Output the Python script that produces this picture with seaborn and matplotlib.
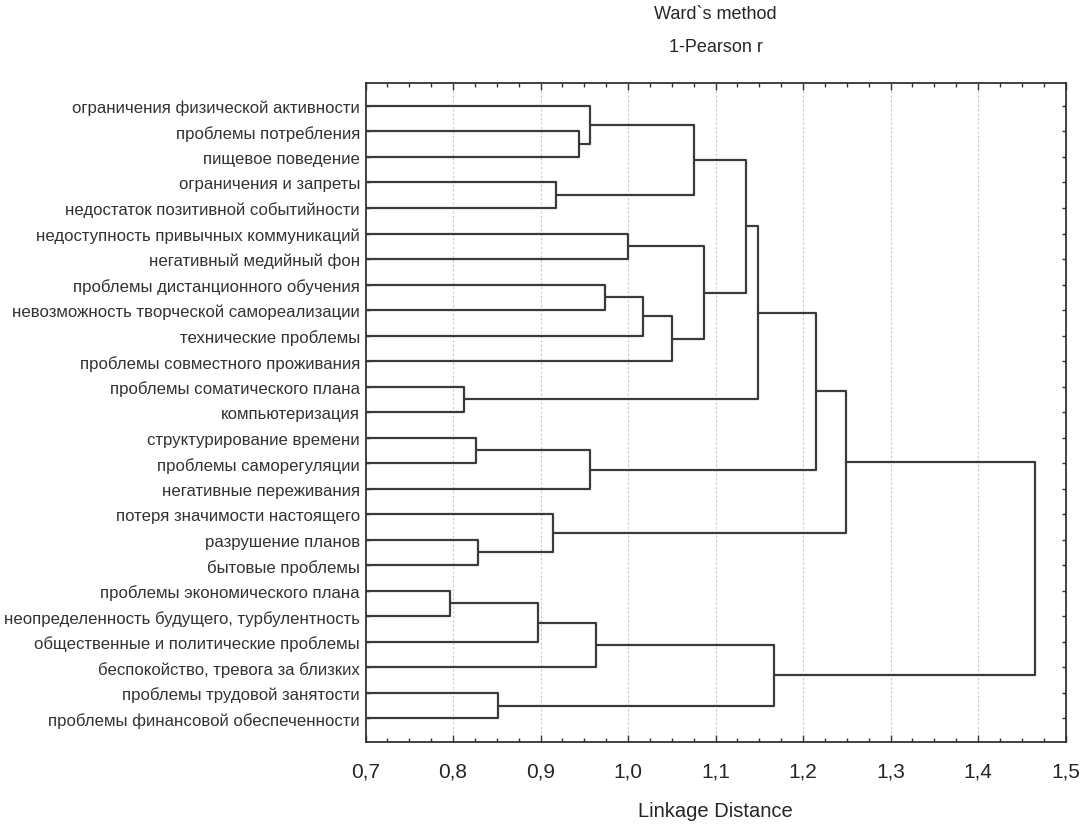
import pandas as pd
import seaborn as sns
import matplotlib.pyplot as plt
from matplotlib.ticker import MultipleLocator

# leaves, top to bottom
leaves = [
    'ограничения физической активности',
    'проблемы потребления',
    'пищевое поведение',
    'ограничения и запреты',
    'недостаток позитивной событийности',
    'недоступность привычных коммуникаций',
    'негативный медийный фон',
    'проблемы дистанционного обучения',
    'невозможность творческой самореализации',
    'технические проблемы',
    'проблемы совместного проживания',
    'проблемы соматического плана',
    'компьютеризация',
    'структурирование времени',
    'проблемы саморегуляции',
    'негативные переживания',
    'потеря значимости настоящего',
    'разрушение планов',
    'бытовые проблемы',
    'проблемы экономического плана',
    'неопределенность будущего, турбулентность',
    'общественные и политические проблемы',
    'беспокойство, тревога за близких',
    'проблемы трудовой занятости',
    'проблемы финансовой обеспеченности',
]

# merges: node ids 0..24 are leaves, merge i gets id 25+i
merge_a = [1, 0, 3, 26, 5, 7, 30, 31, 29, 28, 11, 34, 13, 37, 36, 17, 16, 39, 19, 43, 44, 23, 45, 42]
merge_b = [2, 25, 4, 27, 6, 8, 9, 10, 32, 33, 12, 35, 14, 15, 38, 18, 40, 41, 20, 21, 22, 24, 46, 47]
merge_h = [0.944, 0.957, 0.918, 1.075, 1.000, 0.974, 1.017, 1.050, 1.087, 1.135,
           0.812, 1.148, 0.826, 0.957, 1.215, 0.829, 0.914, 1.249,
           0.796, 0.897, 0.963, 0.851, 1.167, 1.465]

x_ticks = [0.7, 0.8, 0.9, 1.0, 1.1, 1.2, 1.3, 1.4, 1.5]
x_labels = ['0,7', '0,8', '0,9', '1,0', '1,1', '1,2', '1,3', '1,4', '1,5']

n = len(leaves)
pos = {i: float(i) for i in range(n)}
hgt = {i: 0.7 for i in range(n)}
rows = []
for k, (a, b, h) in enumerate(zip(merge_a, merge_b, merge_h)):
    node = n + k
    pos[node] = (pos[a] + pos[b]) / 2
    hgt[node] = h
    for x, y in [(hgt[a], pos[a]), (h, pos[a]), (h, pos[b]), (hgt[b], pos[b])]:
        rows.append({'seg': k, 'x': x, 'y': y})
segs = pd.DataFrame(rows)

sns.set_theme(style='white')
plt.rcParams['font.family'] = ['Liberation Sans', 'DejaVu Sans']

fig = plt.figure(figsize=(10.84, 8.29), dpi=100)
ax = fig.add_axes([0.3372, 0.1037, 0.6458, 0.795])

for x in x_ticks[1:-1]:
    ax.axvline(x, color='#c8c8c8', lw=0.8, ls=(0, (2, 2)), zorder=0)

sns.lineplot(data=segs, x='x', y='y', units='seg', estimator=None, sort=False,
             color='#3a3a3a', lw=1.6, ax=ax)

ax.set_xlim(0.7, 1.5)
ax.set_ylim(n - 1 + 0.93, -0.9)
ax.set_xticks(x_ticks)
ax.set_xticklabels(x_labels, fontsize=15)
ax.xaxis.set_minor_locator(MultipleLocator(0.025))
ax.set_yticks(range(n))
ax.set_yticklabels(leaves, fontsize=12.1, color='#333333')
ax.tick_params(axis='both', which='both', direction='in', top=True, right=True,
               bottom=True, left=True, color='#333333', width=1)
ax.tick_params(axis='x', which='major', length=5, pad=14)
ax.tick_params(axis='x', which='minor', length=3)
ax.tick_params(axis='y', length=3, pad=4)
for sp in ax.spines.values():
    sp.set_color('#333333')
    sp.set_linewidth(1.3)

ax.set_xlabel('Linkage Distance', fontsize=14.5, labelpad=15)
ax.set_ylabel('')
fig.text(0.66, 0.983, 'Ward`s method', ha='center', va='center', fontsize=13)
fig.text(0.66, 0.943, '1-Pearson r', ha='center', va='center', fontsize=13)

fig.savefig('out.png', dpi=100)
